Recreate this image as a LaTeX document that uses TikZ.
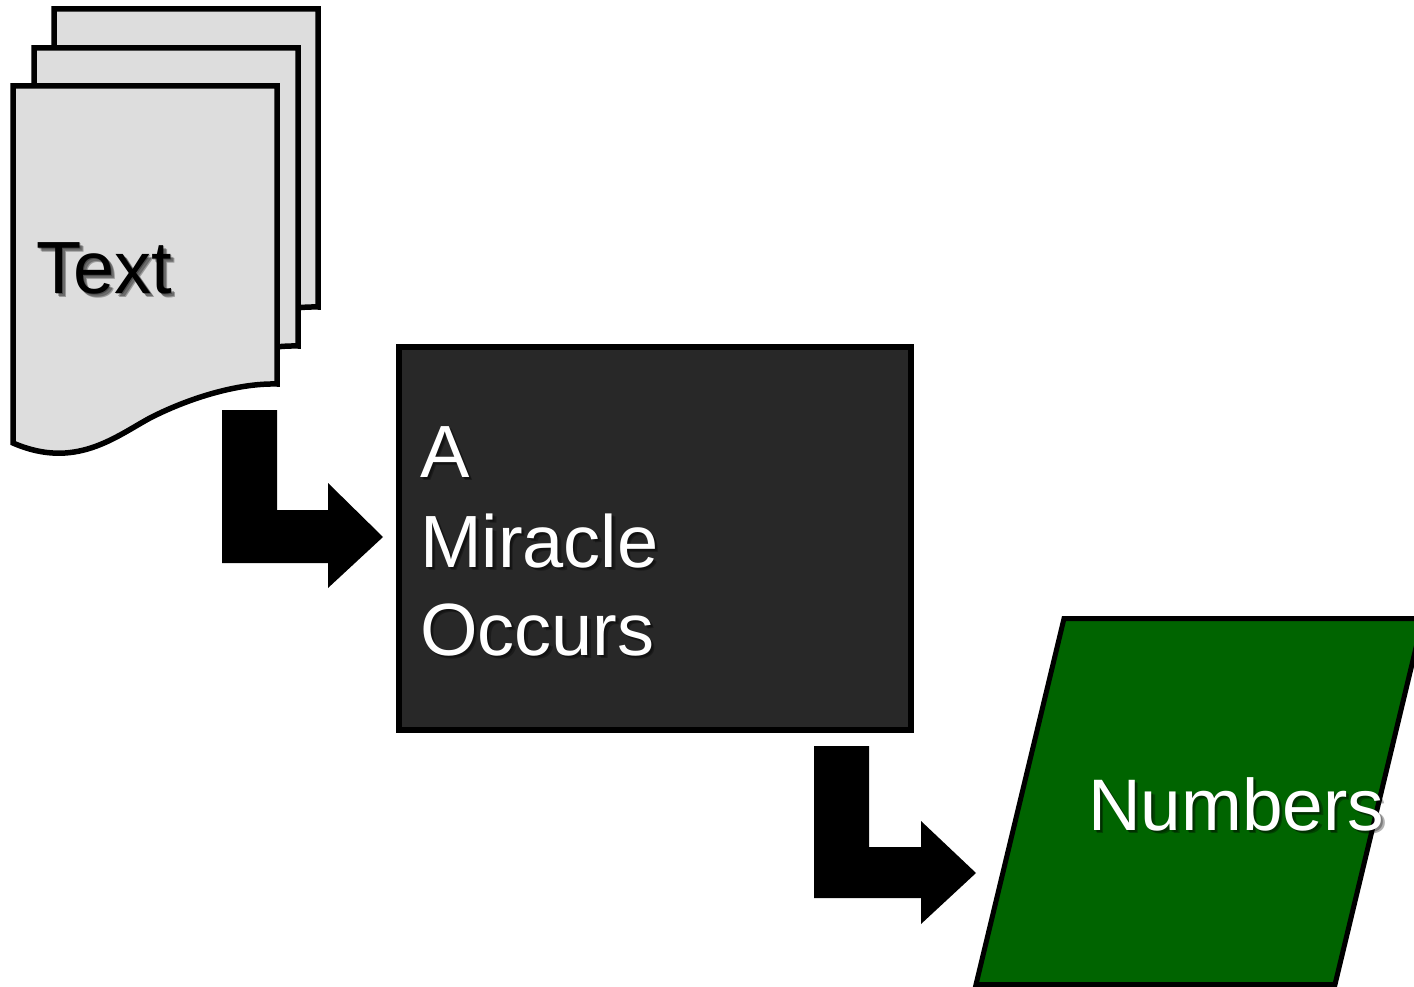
\documentclass[tikz,border=0pt]{standalone}
\usepackage{fontspec}
\setmainfont{Liberation Sans}
\definecolor{docgray}{HTML}{DDDDDD}
\definecolor{boxdark}{HTML}{282828}
\definecolor{numgreen}{HTML}{006400}
\tikzset{
  docsheet/.style={draw=black, line width=5.5pt, fill=docgray, miter limit=10},
  blockarrow/.style={fill=black, draw=none},
  bigtext/.style={inner sep=0pt, outer sep=0pt, anchor=base west, font=\fontsize{74}{89}\selectfont},
  shadowtxt/.style={bigtext, text=black, opacity=0.3},
}
\newcommand\docshape{(13,86) -- (277,86) -- (277,384) .. controls (235,383) and (185,400) .. (150,418) .. controls (115,437) and (75,470) .. (13,443) -- cycle}
\begin{document}
\begin{tikzpicture}[x=1pt,y=-1pt]
\useasboundingbox (0,0) rectangle (1414,987);
\clip (0,0) rectangle (1414,987);
% document stack
\begin{scope}[shift={(41,-77)}]
  \draw[docsheet] \docshape;
\end{scope}
\begin{scope}[shift={(21,-38)}]
  \draw[docsheet] \docshape;
\end{scope}
\draw[docsheet] \docshape;
\coordinate (docs) at (145,260);
\foreach \d in {1.5,3,4.5}{
  \node[shadowtxt] at (36+\d,293+\d) {Text};
}
\node[bigtext, text=black] (doctext) at (36,293) {Text};
% miracle box
\node[draw=black, line width=6pt, fill=boxdark, minimum width=512pt, minimum height=383pt, inner sep=0pt] (miracle) at (655,538.5) {};
\foreach \d in {2,3.5}{
  \node[shadowtxt] at (420+\d,477+\d) {A};
  \node[shadowtxt] at (420+\d,567+\d) {Miracle};
  \node[shadowtxt] at (420+\d,655+\d) {Occurs};
}
\node[bigtext, text=white] (lineA) at (420,477) {A};
\node[bigtext, text=white] (lineB) at (420,567) {Miracle};
\node[bigtext, text=white] (lineC) at (420,655) {Occurs};
% numbers parallelogram
\draw[line width=5pt, fill=numgreen] (1064,618.5) -- (1423,618.5) -- (1335,984.5) -- (976,984.5) -- cycle;
\coordinate (numbers) at (1200,800);
\foreach \d in {2,3.5}{
  \node[shadowtxt, font=\fontsize{73}{88}\selectfont] at (1088+\d,830+\d) {Numbers};
}
\node[bigtext, text=white, font=\fontsize{73}{88}\selectfont] (numtext) at (1088,830) {Numbers};
% block arrows
\fill[blockarrow] (222,410) -- (277,410) -- (277,510) -- (328,510) -- (328,483) -- (383,537) -- (328,588) -- (328,563) -- (222,563) -- cycle;
\fill[blockarrow] (814,746) -- (869,746) -- (869,847) -- (921,847) -- (921,821) -- (976,873) -- (921,924) -- (921,898) -- (814,898) -- cycle;
\end{tikzpicture}
\end{document}
